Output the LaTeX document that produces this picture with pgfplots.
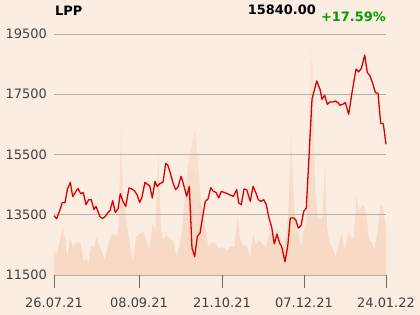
\documentclass[border=0pt]{standalone}
\usepackage{fontspec}
\setmainfont{DejaVu Sans}
\usepackage{pgfplots}
\pgfplotsset{compat=1.18}
\definecolor{bg}{RGB}{252,237,226}
\definecolor{volTop}{RGB}{250,228,213}
\definecolor{volBot}{RGB}{247,216,195}
\definecolor{gridc}{RGB}{182,176,170}
\definecolor{tickc}{RGB}{110,106,102}
\definecolor{labc}{RGB}{64,64,64}
\definecolor{pricec}{RGB}{218,0,0}
\definecolor{upc}{RGB}{0,158,0}
\begin{document}
\begin{tikzpicture}
\fill[bg] (-54bp,-40bp) rectangle (366bp,275bp);
% volume
\begin{axis}[at={(0,0)}, anchor=south west, scale only axis,
  width=332bp, height=241bp, xmin=0, xmax=332, ymin=0, ymax=241,
  hide axis, clip=false]
\addplot[draw=none, top color=volTop, bottom color=volBot] coordinates {
(0,24)(2.7,20)(5.3,32)(8.7,48)(11,35)(13.3,18.3)(16,37)(18.7,28.3)(21.3,31)(24,33.3)
(26.7,31.7)(29.3,13.3)(32,16.7)(34.7,11.7)(37.3,30)(40,26.7)(42.7,38.3)(45.3,28.3)(48,23.3)
(50.7,15)(53.3,26.7)(56.7,40)(60,40)(62.7,38.3)(64.7,48.3)(67,145)(69.3,71.7)(73.3,48.3)
(76.7,25)(79.3,15)(82,38.3)(86,41.7)(89.3,43.3)(92.7,33.3)(95.3,25)(98.7,51.7)(101.3,45)
(104.3,121.7)(107,45)(109.3,35)(112.7,40)(116,36.7)(119.3,34.3)(122.7,18.3)(125.3,28.3)
(128,45)(131,78.3)(133.7,108.3)(136.7,125)(138.7,135)(141,143.3)(143.3,121.7)(146,88.3)
(148.7,55)(151.3,48.3)(154.3,28.3)(157.7,33.3)(161,31.7)(164.3,26.7)(167.7,27.7)(171,26.7)
(173.7,24.3)(176,27.7)(180.3,28.3)(183.7,60)(186,35)(189.3,30)(192.7,29)(196,18.3)
(199.3,41.7)(201.7,30)(205,35)(208.3,31.7)(211.7,26.7)(215,40)(218.3,45)(221,38.3)
(223.7,46.7)(226.3,28.3)(229.3,26.7)(231.7,38.3)(234.3,61.7)(237,141.7)(239.3,85)
(241.7,45)(244.3,43.3)(247,28.3)(249.7,45)(252.3,55)(254.3,108.3)(256.3,225)(259,205)
(261,85)(263.7,58.3)(266.3,56.7)(268.3,55)(271,111.7)(273,48.3)(275,33.3)(277.7,28.3)
(281.7,18.3)(285,31.7)(287.7,41.7)(291,25)(294.3,43.3)(297,38.3)(299.7,35)(302.3,78.3)
(305,65)(307.7,68.3)(310.3,70)(312.7,58.3)(315,35)(317.7,33.3)(320.3,25)(323.7,45)
(326.3,71.7)(329,68.3)(331.7,48.3)(332,45)
} \closedcycle;
\end{axis}
% price
\begin{axis}[at={(0,0)}, anchor=south west, scale only axis,
  width=332bp, height=241bp, xmin=0, xmax=332, ymin=11500, ymax=19500,
  axis line style={draw=none},
  scaled y ticks=false, scaled x ticks=false,
  ymajorgrids, major grid style={gridc, line width=0.8pt},
  ytick={11500,13500,15500,17500,19500},
  yticklabels={11500,13500,15500,17500,19500},
  xtick={0,85,168,250,332},
  xticklabels={26.07.21,08.09.21,21.10.21,07.12.21,24.01.22},
  xtick pos=bottom, ytick pos=left,
  tick align=outside, major tick length=13bp,
  xtick style={tickc, line width=0.8pt},
  ytick style={draw=none},
  tick label style={font=\fontsize{13}{15}\selectfont, text=labc, inner sep=0pt},
  yticklabel style={anchor=east, xshift=6bp},
  xticklabel style={anchor=north, yshift=-10bp},
  clip=false]
\addplot[pricec, line width=1.3pt, line join=round] coordinates {
(0,13467)(2.7,13367)(6,13667)(8.3,13910)(11,13900)(13.3,14333)(16.3,14577)(18.7,14100)
(21.3,14243)(24,14377)(26.7,14200)(29.3,14233)(32,13833)(34.7,14000)(37.3,14000)(40,13667)
(42,13777)(44,13610)(46,13433)(48.7,13377)(51.3,13443)(54,13577)(56,13633)(58.7,13967)
(61.3,13577)(64,13690)(66.3,14200)(69,13943)(71.7,13777)(75,14390)(77.7,14357)(80.3,14300)
(83,14167)(85.7,13910)(87.7,14057)(91,14577)(93.7,14500)(95.7,14467)(98.3,14057)(101,14610)
(103,14443)(105.7,14533)(109,14577)(111.7,15200)(113.7,15157)(116.3,14890)(119,14557)
(121.7,14333)(124.3,14443)(127,14777)(128.7,14610)(130.7,14357)(132.7,14110)(135.3,14443)
(138,12390)(140.7,12110)(143.3,12777)(146,12890)(148.7,13443)(151.3,13943)(154,14023)
(156.7,14400)(159.3,14277)(162,14243)(164.7,14057)(167.3,14277)(170,14243)(173.3,14200)
(176,14157)(179.3,14110)(182.7,14333)(184.7,13890)(187.3,13833)(190,14357)(192.7,14333)
(196.3,13943)(199,14443)(201.7,14243)(204.3,14000)(207,13943)(209.7,14000)(212.3,13833)
(215,13390)(217.7,13090)(220.3,12533)(223,12857)(225.7,12557)(227.7,12443)(231,11943)
(233.7,12443)(236.3,13390)(239.7,13390)(241.7,13333)(244.3,13057)(247,13133)(249.7,13610)
(252.3,13723)(258,17333)(262.7,17943)(266,17667)(268,17333)(270.7,17467)(273.3,17167)
(276,17243)(279.3,17243)(281.3,17277)(284,17223)(286,17133)(288.7,17167)(291.3,17223)
(294.7,16833)(298,17557)(302,18333)(304.7,18243)(307.3,18357)(310.7,18800)(313.3,18223)
(316,18110)(318.7,17867)(321.3,17557)(324,17533)(326.7,16533)(329.3,16523)(332,15840)
};
\end{axis}
\node[anchor=base west, inner sep=0pt, font=\fontsize{13}{15}\selectfont\bfseries] at (1bp,259bp) {LPP};
\node[anchor=base east, inner sep=0pt, font=\fontsize{13}{15}\selectfont\bfseries] at (262bp,260.5bp) {15840.00};
\node[anchor=base east, inner sep=0pt, text=upc, font=\fontsize{13}{15}\selectfont\bfseries] at (332bp,253.3bp) {+17.59\%};
\pgfresetboundingbox
\path (-54bp,-40bp) rectangle (366bp,275bp);
\end{tikzpicture}
\end{document}
